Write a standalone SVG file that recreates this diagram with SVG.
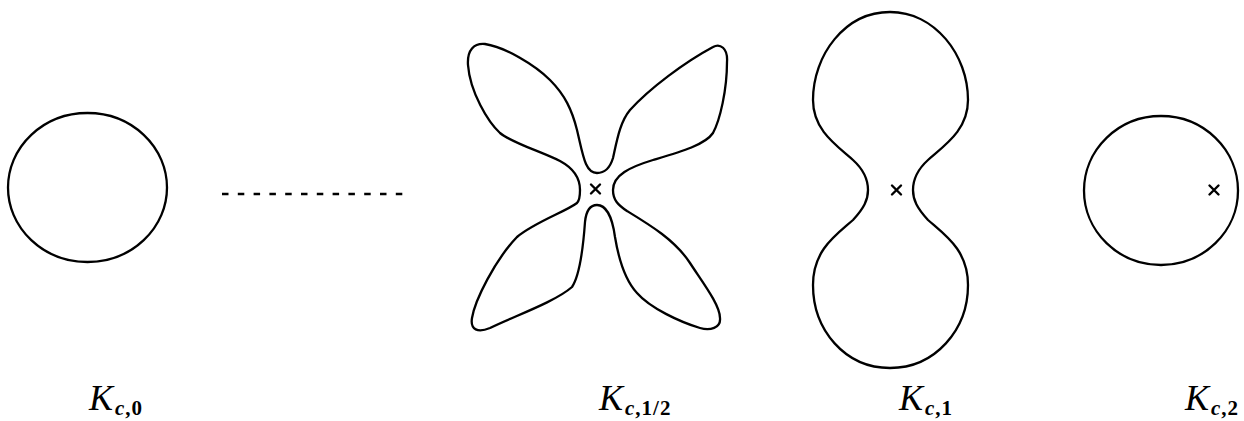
<svg xmlns="http://www.w3.org/2000/svg" width="1244" height="421" viewBox="0 0 1244 421">
  <style>
    .curve { fill: none; stroke: #000; stroke-width: 2.3; stroke-linejoin: round; }
    .mark { fill: none; stroke: #000; stroke-width: 2.4; stroke-linecap: round; }
    .lbl { font-family: "Liberation Serif", "DejaVu Serif", serif; font-style: italic; font-size: 36px; fill: #000; }
    .sub { font-style: normal; font-weight: bold; font-size: 21px; letter-spacing: 1px; }
    .subi { font-style: italic; }
  </style>
  <defs>
    <path id="x" class="mark" d="M -4.5 -4.5 L 4.5 4.5 M -4.5 4.5 L 4.5 -4.5"/>
  </defs>
  <rect width="1244" height="421" fill="#fff"/>

  <g id="K0">
    <ellipse class="curve" cx="87.5" cy="187.5" rx="79.5" ry="74.5"/>
    <text class="lbl" x="89" y="410">K<tspan class="sub" dy="5" dx="2"><tspan class="subi">c</tspan>,0</tspan></text>
  </g>

  <g id="connectors">
    <line x1="222" y1="194" x2="403" y2="194" stroke="#000" stroke-width="2.3" stroke-dasharray="6.5 9.3"/>
  </g>

  <g id="Khalf">
    <path class="curve" d="M 580 190
      C 580 178, 573 168, 560 161
      C 540 151, 512 143, 500 133
      C 488 122, 470 92, 468 65
      C 467 50, 474 43, 485 44
      C 505 47, 535 65, 550 80
      C 565 95, 572 110, 577 130
      C 583 155, 585 173, 597 173
      C 605 173, 610 168, 613 158
      C 617 140, 620 122, 630 110
      C 650 88, 685 62, 713 47
      C 720 43, 728 48, 727 62
      C 727 90, 720 120, 713 133
      C 705 145, 680 152, 653 160
      C 630 167, 613 175, 613 190
      C 613 200, 618 205, 627 211
      C 650 225, 675 240, 690 263
      C 703 283, 720 305, 720 318
      C 721 328, 710 331, 700 328
      C 680 322, 650 308, 637 293
      C 623 278, 618 255, 615 237
      C 612 215, 605 205, 597 205
      C 590 205, 586 212, 585 222
      C 583 250, 580 275, 572 287
      C 555 302, 512 317, 490 328
      C 478 333, 470 330, 472 318
      C 475 300, 495 260, 517 237
      C 535 222, 565 212, 577 203
      C 580 200, 580 195, 580 190 Z"/>
    <use href="#x" x="595.5" y="189"/>
    <text class="lbl" x="599" y="410">K<tspan class="sub" dy="5" dx="2"><tspan class="subi">c</tspan>,1/2</tspan></text>
  </g>

  <g id="K1">
    <path class="curve" d="M 890 12
      C 935 12, 968 55, 968 100
      C 968 130, 945 145, 928 160
      C 917 170, 913 180, 913 190
      C 913 200, 917 208, 928 220
      C 945 235, 968 250, 968 285
      C 968 330, 935 368, 890 368
      C 845 368, 813 330, 813 285
      C 813 250, 836 235, 853 220
      C 864 208, 868 200, 868 190
      C 868 180, 864 170, 853 160
      C 836 145, 813 130, 813 100
      C 813 55, 845 12, 890 12 Z"/>
    <use href="#x" x="896.5" y="190"/>
    <text class="lbl" x="899" y="410">K<tspan class="sub" dy="5" dx="2"><tspan class="subi">c</tspan>,1</tspan></text>
  </g>

  <g id="K2">
    <ellipse class="curve" cx="1161" cy="190.5" rx="77" ry="74.5"/>
    <use href="#x" x="1214" y="190"/>
    <text class="lbl" x="1185" y="410">K<tspan class="sub" dy="5" dx="2"><tspan class="subi">c</tspan>,2</tspan></text>
  </g>
</svg>
